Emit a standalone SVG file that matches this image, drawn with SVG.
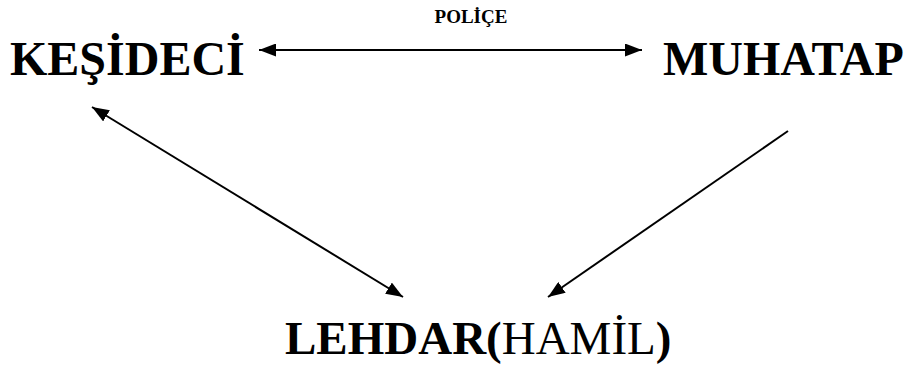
<svg xmlns="http://www.w3.org/2000/svg" width="912" height="367" viewBox="0 0 912 367">
<style>
.t{font-family:"Liberation Serif","Times New Roman",serif;fill:#000}
.b{font-weight:bold}
.big{font-size:48px}
.c{stroke:#000;stroke-width:2;fill:none}
</style>
<defs>
<marker id="ah" viewBox="0 0 17 13" refX="17" refY="6.5" markerWidth="17" markerHeight="13" markerUnits="userSpaceOnUse" orient="auto-start-reverse">
<path d="M0,0 L17,6.5 L0,13 Z" fill="#000"/>
</marker>
</defs>
<rect width="912" height="367" fill="#fff"/>
<g id="connectors">
<line class="c" x1="259" y1="50" x2="642" y2="50" marker-start="url(#ah)" marker-end="url(#ah)"/>
<line class="c" x1="92" y1="107" x2="403" y2="297" marker-start="url(#ah)" marker-end="url(#ah)"/>
<line class="c" x1="788" y1="131" x2="548" y2="297" marker-end="url(#ah)"/>
<text class="t b" x="471" y="23" font-size="19" text-anchor="middle">POLİÇE</text>
</g>
<g id="kesideci"><text class="t b big" x="10" y="75">KEŞİDECİ</text></g>
<g id="muhatap"><text class="t b big" x="663" y="75">MUHATAP</text></g>
<g id="lehdar"><text class="t" font-size="47" x="285" y="354"><tspan class="b">LEHDAR(</tspan>HAMİL<tspan class="b">)</tspan></text></g>
</svg>
